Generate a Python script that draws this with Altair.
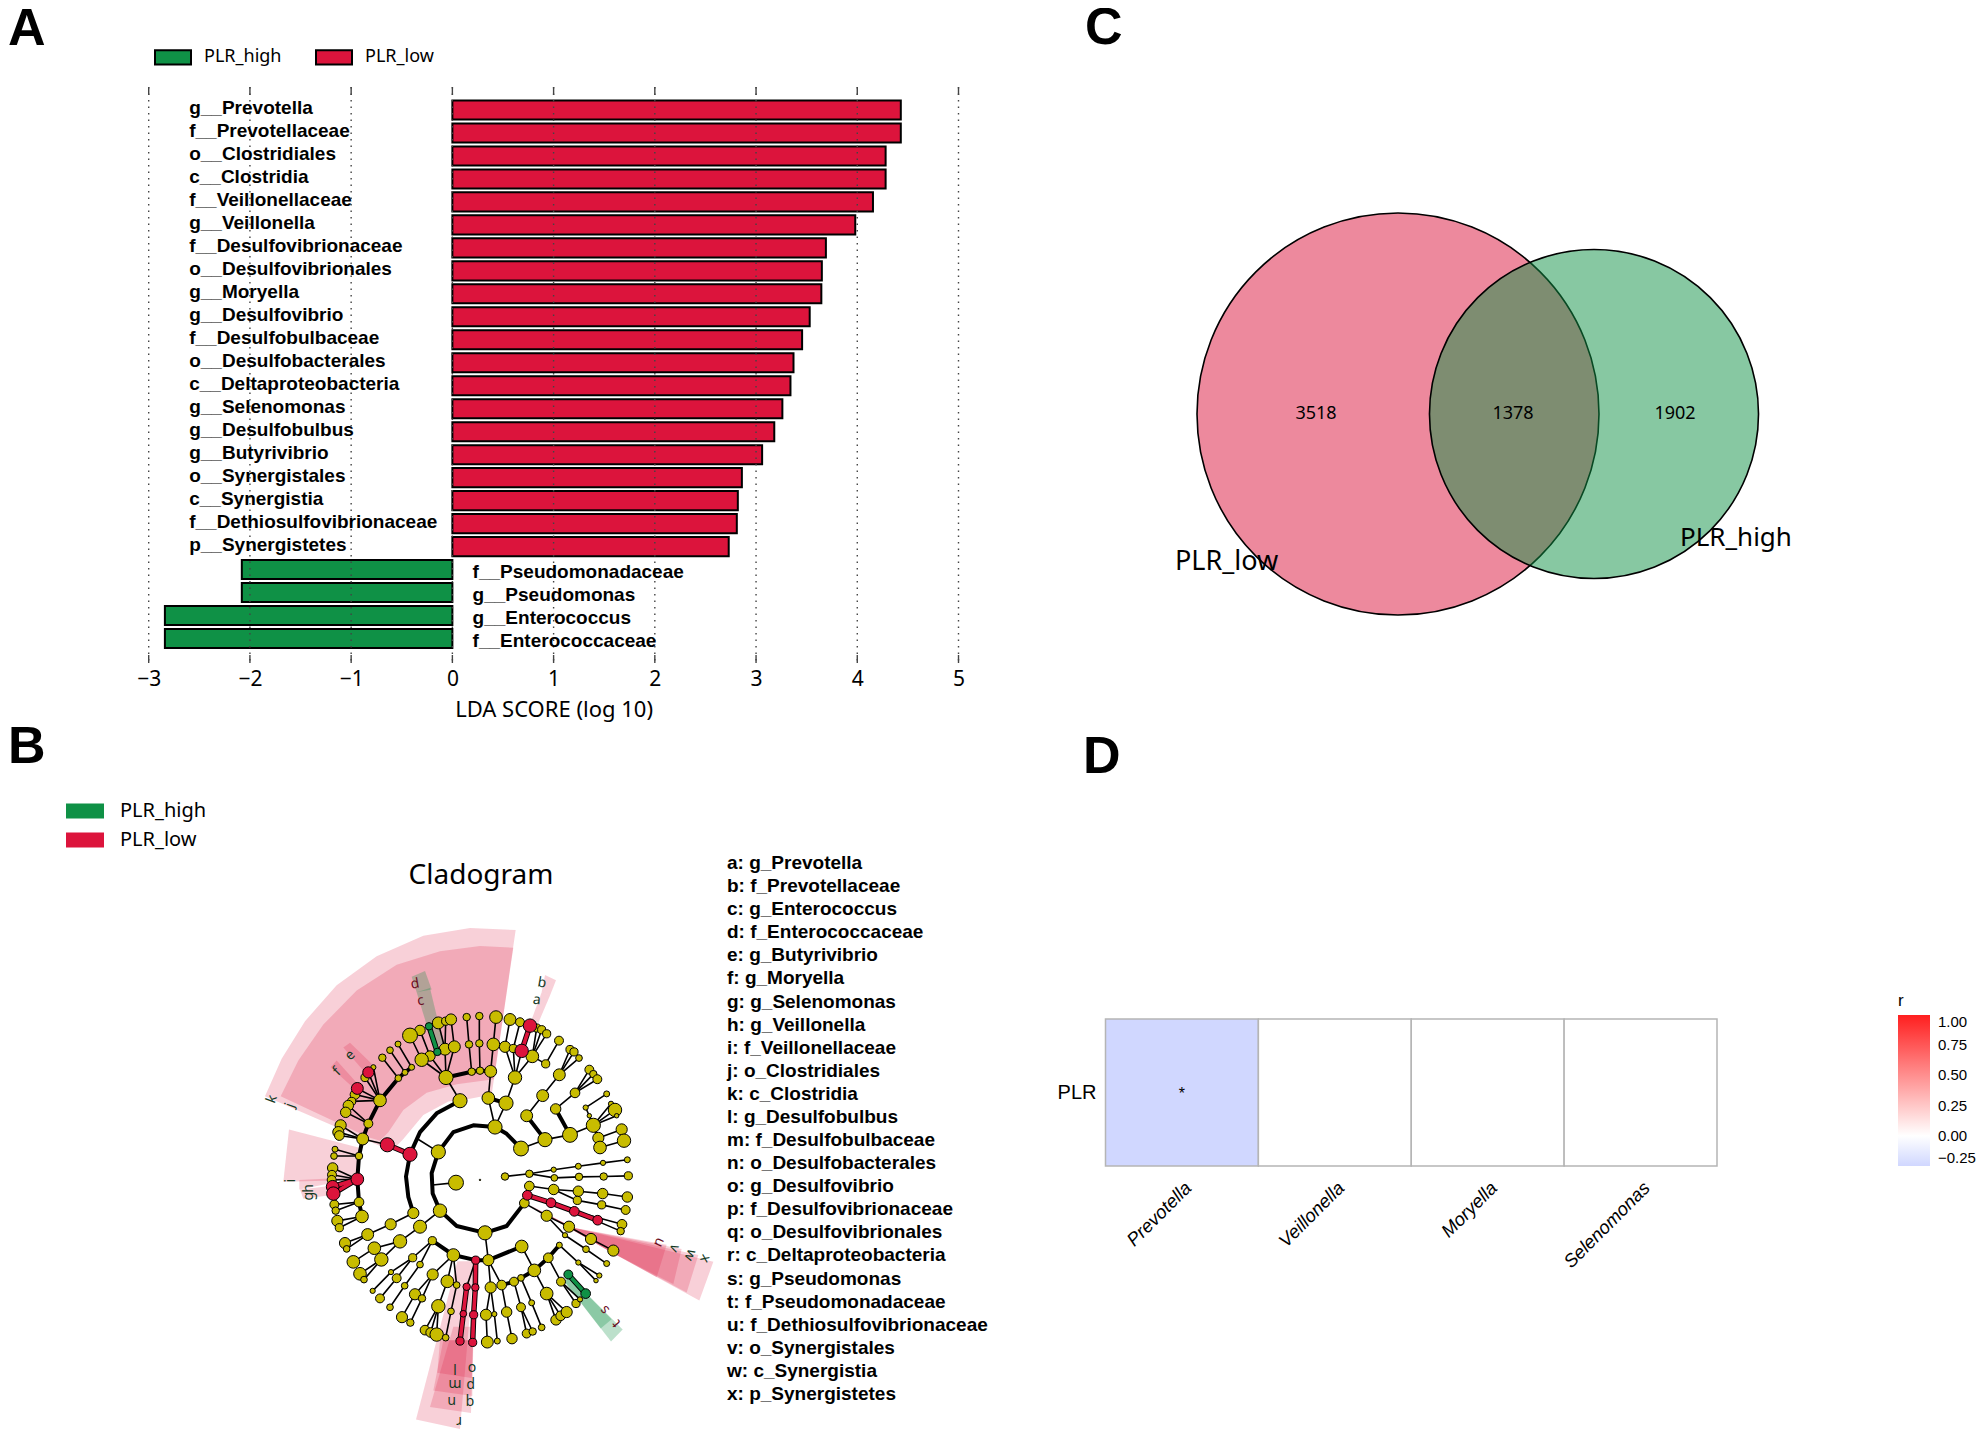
import altair as alt
import pandas as pd

# ---------- palette
RED = "#dc143c"
GREEN = "#0f9146"
YELLOW = "#c8bc00"
SANS = "Noto Sans"
ARIAL = "Liberation Sans"

# ---------- panel A data
lda_taxa_low = ["g__Prevotella", "f__Prevotellaceae", "o__Clostridiales", "c__Clostridia", "f__Veillonellaceae",
                "g__Veillonella", "f__Desulfovibrionaceae", "o__Desulfovibrionales", "g__Moryella", "g__Desulfovibrio",
                "f__Desulfobulbaceae", "o__Desulfobacterales", "c__Deltaproteobacteria", "g__Selenomonas",
                "g__Desulfobulbus", "g__Butyrivibrio", "o__Synergistales", "c__Synergistia",
                "f__Dethiosulfovibrionaceae", "p__Synergistetes"]
lda_values_low = [4.43, 4.43, 4.28, 4.28, 4.155, 3.98, 3.69, 3.65, 3.645, 3.53, 3.455, 3.37, 3.34, 3.26, 3.18, 3.06,
                  2.86, 2.82, 2.81, 2.73]
lda_taxa_high = ["f__Pseudomonadaceae", "g__Pseudomonas", "g__Enterococcus", "f__Enterococcaceae"]
lda_values_high = [-2.08, -2.08, -2.84, -2.84]
lda_ticks = [-3, -2, -1, 0, 1, 2, 3, 4, 5]

# ---------- panel B data (in cladogram units)
clad_labels = ["a: g_Prevotella", "b: f_Prevotellaceae", "c: g_Enterococcus", "d: f_Enterococcaceae",
               "e: g_Butyrivibrio", "f: g_Moryella", "g: g_Selenomonas", "h: g_Veillonella", "i: f_Veillonellaceae",
               "j: o_Clostridiales", "k: c_Clostridia", "l: g_Desulfobulbus", "m: f_Desulfobulbaceae",
               "n: o_Desulfobacterales", "o: g_Desulfovibrio", "p: f_Desulfovibrionaceae", "q: o_Desulfovibrionales",
               "r: c_Deltaproteobacteria", "s: g_Pseudomonas", "t: f_Pseudomonadaceae", "u: f_Dethiosulfovibrionaceae",
               "v: o_Synergistales", "w: c_Synergistia", "x: p_Synergistetes"]

red_sectors = [
    [(75, 575), (125, 465), (195, 355), (290, 250), (410, 165), (550, 105), (690, 82), (827, 88), (755, 570),
     (690, 582), (625, 590), (550, 630), (490, 700), (455, 735)],
    [(122, 575), (175, 470), (250, 365), (350, 265), (470, 190), (600, 150), (720, 135), (820, 140), (762, 525),
     (650, 540), (560, 565), (490, 615), (445, 680), (420, 705), (385, 695)],
    [(310, 432), (330, 418), (395, 480), (375, 505)],
    [(272, 490), (290, 470), (350, 535), (340, 550)],
    [(875, 350), (905, 270), (930, 280), (895, 360)],
    [(905, 270), (915, 220), (948, 235), (930, 280)],
    [(147, 672), (355, 725), (355, 820), (130, 825)],
    [(178, 820), (270, 816), (272, 830), (178, 848)],
    [(180, 848), (270, 838), (270, 865), (190, 875)],
    [(1000, 960), (1420, 1060), (1378, 1173), (1110, 1030), (870, 895)],
    [(1000, 960), (1375, 1040), (1340, 1150), (1110, 1030), (870, 895)],
    [(1000, 960), (1325, 1022), (1300, 1125), (1110, 1030), (870, 895)],
    [(1000, 960), (1280, 1010), (1250, 1105), (1110, 1030), (870, 895)],
    [(652, 1058), (703, 1058), (660, 1550), (528, 1522)],
    [(640, 1250), (700, 1250), (693, 1503), (570, 1485)],
    [(610, 1290), (700, 1290), (697, 1453), (580, 1437)],
    [(600, 1290), (700, 1290), (695, 1400), (592, 1385)],
]
green_sectors = [
    [(515, 225), (555, 208), (575, 262), (530, 270)],
    [(530, 270), (570, 258), (610, 420), (580, 430)],
    [(985, 1100), (1148, 1258), (1113, 1293), (975, 1120)],
    [(985, 1100), (1115, 1228), (1082, 1255), (975, 1120)],
]

thick_branches = [
    [(843, 728), (800, 685), (765, 665), (700, 660), (640, 680), (595, 738), (575, 800), (578, 860), (600, 910),
     (650, 955), (735, 975), (800, 955), (853, 888)],
    [(660, 588), (590, 625), (540, 680), (510, 745), (498, 810), (505, 870), (520, 917)],
    [(368, 700), (385, 655), (420, 587), (475, 522), (495, 505), (515, 490)],
    [(368, 700), (357, 750), (352, 818), (357, 885), (366, 927)],
    [(798, 595), (745, 580)],
    [(618, 520), (695, 503), (720, 500), (752, 502)],
    [(915, 702), (860, 632)],
    [(990, 688), (947, 612)],
    [(577, 998), (640, 1040), (707, 1055), (745, 1055), (845, 1015)],
    [(785, 1128), (822, 1118), (843, 1107), (883, 1085), (925, 1048), (958, 1011)],
]
thin_branches = [
    [(578, 835), (648, 828)], [(595, 738), (533, 700)], [(765, 665), (798, 595), (825, 520)], [(843, 728), (915, 702), (990, 688), (1060, 660)],
    [(860, 632), (908, 573), (958, 512)], [(958, 512), (990, 438)], [(958, 512), (1002, 445)], [(958, 512), (1017, 463)],
    [(947, 612), (1005, 565)], [(1005, 565), (1048, 497)], [(1005, 565), (1060, 510)], [(1005, 565), (1072, 525)],
    [(1060, 660), (1037, 608), (1100, 568)], [(1060, 660), (1048, 632)], [(1060, 660), (1113, 597)], [(1060, 660), (1125, 615)], [(1060, 660), (1130, 632)],
    [(1060, 660), (1075, 697), (1145, 672)], [(1060, 660), (1080, 725), (1152, 705)],
    [(825, 520), (795, 430), (810, 350)], [(825, 520), (820, 435), (840, 358)], [(825, 520), (877, 458), (890, 375)], [(877, 458), (905, 380)], [(877, 458), (920, 392)],
    [(877, 458), (917, 480), (957, 412)],
    [(745, 580), (752, 502), (760, 423), (768, 343)], [(695, 503), (687, 423), (680, 343)], [(720, 500), (718, 420), (718, 340)],
    [(618, 520), (660, 588)], [(618, 520), (570, 457), (540, 382)], [(618, 520), (545, 468), (510, 397)], [(618, 520), (615, 437), (595, 360)], [(615, 437), (617, 355)], [(618, 520), (643, 430), (633, 350)],
    [(442, 717), (368, 700)], [(475, 522), (427, 462)], [(495, 505), (450, 440)], [(515, 490), (474, 422)],
    [(420, 587), (385, 505)], [(420, 587), (352, 552)], [(420, 587), (375, 520)], [(420, 587), (400, 490)], [(420, 587), (345, 570)], [(420, 587), (335, 590)],
    [(385, 655), (325, 602)], [(385, 655), (317, 622)], [(368, 700), (302, 660)], [(368, 700), (295, 680)], [(368, 700), (298, 690)],
    [(352, 818), (278, 785)], [(352, 818), (276, 805)], [(352, 818), (275, 820)], [(357, 750), (285, 730)], [(357, 750), (282, 750)],
    [(357, 885), (283, 892)], [(357, 885), (287, 910)], [(366, 927), (292, 940)], [(366, 927), (298, 960)],
    [(520, 917), (452, 950), (383, 980), (315, 1005)], [(383, 980), (320, 1022)],
    [(600, 910), (540, 957), (480, 1000), (424, 1053), (360, 1095)], [(424, 1053), (372, 1112)], [(480, 1000), (403, 1020), (340, 1060)],
    [(735, 975), (745, 1055)],
    [(577, 998), (518, 1048), (470, 1108), (420, 1167)], [(577, 998), (540, 1068), (494, 1130), (450, 1193)], [(518, 1048), (453, 1090), (398, 1145)],
    [(640, 1040), (622, 1117), (595, 1190)], [(640, 1040), (578, 1097), (525, 1155), (486, 1222)], [(578, 1097), (546, 1167), (511, 1238)],
    [(595, 1190), (555, 1260)], [(595, 1190), (572, 1267)], [(595, 1190), (590, 1273)], [(640, 1040), (650, 1128), (633, 1205), (617, 1282)],
    [(745, 1055), (752, 1135), (738, 1215), (742, 1295)], [(752, 1135), (763, 1213), (772, 1292)], [(745, 1055), (785, 1128), (800, 1207), (816, 1285)],
    [(822, 1118), (843, 1193), (860, 1270)], [(843, 1193), (878, 1264)], [(843, 1107), (875, 1180), (905, 1252)],
    [(845, 1015), (883, 1085), (920, 1153)], [(920, 1153), (948, 1230)], [(920, 1153), (962, 1218)], [(920, 1153), (980, 1207)],
    [(925, 1048), (963, 1118), (1008, 1182)], [(963, 1118), (1020, 1170)], [(958, 1011), (1015, 1062), (1068, 1115)], [(1015, 1062), (1078, 1100)],
    [(853, 888), (920, 925), (987, 957), (1053, 993), (1120, 1027)], [(920, 925), (975, 982), (1038, 1023), (1100, 1065)],
    [(1003, 912), (1146, 950)], [(1003, 912), (1142, 970)],
    [(868, 838), (941, 848), (1015, 853), (1088, 860), (1162, 870)], [(941, 848), (1012, 880), (1085, 893), (1157, 908)],
    [(795, 810), (868, 802), (941, 790), (1015, 780), (1089, 770), (1162, 761)], [(868, 802), (943, 814), (1017, 811), (1091, 810), (1165, 808)],
    [(765, 665), (745, 580)], [(825, 520), (845, 442)], [(707, 1055), (680, 1133)],
]
red_branches = [
    [(442, 717), (510, 745)], [(845, 442), (870, 368)], [(352, 818), (278, 840)], [(352, 818), (280, 860)],
    [(707, 1055), (706, 1135), (701, 1215), (698, 1296)], [(680, 1133), (670, 1212), (660, 1292)],
    [(862, 865), (933, 887), (1003, 912), (1073, 938)],
]
green_branches = [
    [(592, 445), (567, 370)], [(985, 1097), (1037, 1153)],
]

yellow_nodes = [
    (648, 828, 40), (595, 738, 38), (765, 665, 38), (843, 728, 40), (600, 910, 36), (735, 975, 38), (853, 888, 26),
    (868, 838, 26), (795, 810, 20), (660, 588, 38), (520, 917, 30), (540, 957, 35), (798, 595, 38), (745, 580, 34),
    (915, 702, 38), (860, 632, 32), (990, 688, 40), (947, 612, 28), (1060, 660, 38), (908, 573, 32), (958, 512, 32),
    (990, 438, 22), (1002, 445, 22), (1017, 463, 18), (1005, 565, 26), (1048, 497, 24), (1060, 510, 20), (1072, 525, 24),
    (1037, 608, 14), (1048, 632, 12), (1100, 568, 16), (1113, 597, 14), (1125, 615, 36), (1130, 632, 12),
    (1075, 697, 30), (1080, 725, 34), (1145, 672, 30), (1152, 705, 36), (825, 520, 36), (795, 430, 30), (820, 435, 22),
    (877, 458, 34), (810, 350, 32), (840, 358, 24), (890, 375, 22), (905, 380, 22), (920, 392, 22), (917, 480, 22),
    (957, 412, 24), (752, 502, 32), (760, 423, 34), (768, 343, 34), (695, 503, 20), (720, 500, 20), (687, 423, 20),
    (680, 343, 20), (718, 420, 20), (718, 340, 20), (618, 520, 38), (570, 457, 28), (545, 468, 36), (615, 437, 32),
    (643, 430, 32), (540, 382, 28), (510, 397, 40), (595, 360, 32), (617, 355, 22), (633, 350, 30),
    (368, 700, 32), (385, 655, 24), (420, 587, 34), (475, 522, 18), (495, 505, 16), (515, 490, 16), (427, 462, 20),
    (450, 440, 18), (474, 422, 16), (375, 520, 22), (400, 490, 14), (345, 570, 26), (335, 590, 22), (325, 602, 28),
    (317, 622, 28), (302, 660, 30), (295, 680, 30), (298, 690, 26), (357, 750, 20), (357, 885, 26), (366, 927, 34),
    (278, 785, 28), (276, 805, 24), (275, 820, 24), (285, 730, 16), (282, 750, 18), (283, 892, 24), (287, 910, 20),
    (292, 940, 30), (298, 960, 22), (452, 950, 30), (383, 980, 32), (315, 1005, 30), (320, 1022, 18), (480, 1000, 36),
    (424, 1053, 36), (360, 1095, 34), (372, 1112, 18), (403, 1020, 34), (340, 1060, 34), (745, 1055, 30), (577, 998, 22),
    (640, 1040, 34), (845, 1015, 34), (518, 1048, 22), (540, 1068, 18), (470, 1108, 24), (420, 1167, 24), (494, 1130, 18),
    (450, 1193, 18), (453, 1090, 14), (398, 1145, 14), (622, 1117, 34), (578, 1097, 30), (595, 1190, 36), (525, 1155, 30),
    (486, 1222, 30), (546, 1167, 20), (511, 1238, 20), (555, 1260, 26), (572, 1267, 26), (590, 1273, 36), (650, 1128, 18),
    (633, 1205, 18), (617, 1282, 18), (752, 1135, 30), (785, 1128, 26), (738, 1215, 30), (742, 1295, 32), (763, 1213, 14),
    (772, 1292, 16), (800, 1207, 28), (816, 1285, 28), (822, 1118, 24), (843, 1107, 18), (883, 1085, 34), (925, 1048, 26),
    (958, 1011, 16), (843, 1193, 24), (860, 1270, 24), (875, 1180, 16), (905, 1252, 18), (878, 1264, 20), (920, 1153, 34),
    (948, 1230, 28), (962, 1218, 26), (980, 1207, 30), (963, 1118, 24), (1008, 1182, 22), (1020, 1170, 14), (1015, 1062, 14),
    (1068, 1115, 12), (1078, 1100, 14), (920, 925, 30), (987, 957, 30), (1053, 993, 30), (1120, 1027, 30), (975, 982, 14),
    (1038, 1023, 18), (1100, 1065, 16), (1146, 950, 26), (1142, 970, 20), (941, 848, 28), (1015, 853, 28), (1088, 860, 28),
    (1162, 870, 28), (1012, 880, 22), (1085, 893, 22), (1157, 908, 24), (868, 802, 20), (941, 790, 14), (1015, 780, 16),
    (1089, 770, 14), (1162, 761, 16), (943, 814, 18), (1017, 811, 20), (1091, 810, 20), (1165, 808, 22), (720, 820, 4),
]
red_nodes = [
    (510, 745, 38), (442, 717, 38), (845, 442, 36), (870, 368, 36), (385, 505, 30), (352, 552, 32), (352, 818, 34),
    (278, 840, 34), (280, 860, 36), (707, 1055, 22), (680, 1133, 20), (670, 1212, 18), (660, 1292, 22), (706, 1135, 20),
    (701, 1215, 22), (698, 1296, 22), (862, 865, 26), (933, 887, 26), (1003, 912, 26), (1073, 938, 26),
]
green_nodes = [(592, 445, 20), (567, 370, 20), (985, 1097, 24), (1037, 1153, 26)]

sector_letters = list("abcdefghijklmnopqrstuvwx")
sector_letter_x = [890, 906, 542, 525, 331, 291, 206, 206, 153, 150, 96, 645, 645, 635, 696, 692, 690, 657, 1094, 1130, 1258, 1303, 1350, 1395]
sector_letter_y = [293, 243, 296, 246, 455, 503, 868, 845, 822, 602, 583, 1372, 1418, 1468, 1372, 1420, 1472, 1525, 1200, 1240, 1003, 1020, 1040, 1050]
sector_letter_angle = [5, 10, 350, 350, 315, 315, 270, 270, 270, 290, 290, 180, 180, 180, 180, 180, 180, 180, 230, 230, 115, 115, 115, 115]
sector_letter_tone = ["g", "g", "r", "r", "g", "g", "g", "g", "g", "g", "g", "g", "g", "g", "g", "g", "g", "g", "r", "r", "r", "g", "g", "g"]

# ---------- panel C data
venn_sets = ["PLR_low", "PLR_high"]
venn_totals = [4896, 3280]
venn_centres = [1398, 1594]
venn_parts = [3518, 1378, 1902]
venn_part_x = [1316, 1513, 1675]

# ---------- panel D data
heat_taxa = ["Prevotella", "Veillonella", "Moryella", "Selenomonas"]
heat_r = [-0.25, 0, 0, 0]
heat_star = ["*", "", "", ""]
r_breaks = [-0.25, 0, 0.25, 0.5, 0.75, 1]

# ---------- frame
W, H = 1968, 1422
M = 8  # page margin


def rows(paths):
    return pd.DataFrame([{"p": i, "o": j, "x": x, "y": y} for i, path in enumerate(paths) for j, (x, y) in enumerate(path)])


def note(text, x, y, size, font=SANS, weight="normal", color="black", align="left"):
    return alt.Chart(alt.Data(values=[{"t": text}])).mark_text(
        font=font, fontSize=size, fontWeight=weight, color=color, align=align, baseline="middle"
    ).encode(text="t:N", x=alt.value(x - M), y=alt.value(y - M))


# ---------- panel A
lda_x = alt.Scale(domain=[-3, 5], range=[140.7, 950.5], nice=False, zero=False)
lda_y = alt.Scale(domain=lda_taxa_low + lda_taxa_high, range=[90.5, 642], paddingInner=0.17, paddingOuter=0.085)
lda_df = pd.DataFrame({
    "taxon": lda_taxa_low + lda_taxa_high,
    "score": lda_values_low + lda_values_high,
    "group": ["PLR_low"] * len(lda_taxa_low) + ["PLR_high"] * len(lda_taxa_high),
})
legend_path = "M-1,-0.4H1V0.4H-1Z"
bars = alt.Chart(lda_df).mark_bar(stroke="black", strokeWidth=2).encode(
    x=alt.X("score:Q", scale=lda_x, stack=None, axis=alt.Axis(
        values=lda_ticks, format="d", domain=False, ticks=False, grid=False, orient="bottom", offset=-(H - 655),
        labelFont=SANS, labelFontSize=21, labelColor="black", labelPadding=5, labelFlush=False,
        title="LDA SCORE (log 10)", titleFont=SANS, titleFontSize=22, titleFontWeight="normal", titleColor="black", titlePadding=10)),
    y=alt.Y("taxon:N", scale=lda_y, axis=None, sort=None),
    fill=alt.Fill("group:N", scale=alt.Scale(domain=["PLR_high", "PLR_low"], range=[GREEN, RED]), legend=alt.Legend(
        orient="none", legendX=146, legendY=30, direction="horizontal", columns=2, title=None, symbolType=legend_path,
        symbolSize=1296, symbolStrokeColor="black", symbolStrokeWidth=2, symbolOpacity=1, labelFont=SANS, labelFontSize=18,
        labelColor="black", columnPadding=30, labelOffset=12)),
)
tick_df = pd.DataFrame({"t": lda_ticks})
grid = alt.Chart(tick_df).mark_rule(color="#444", strokeWidth=1.4, strokeDash=[1.5, 5]).encode(
    x=alt.X("t:Q", scale=lda_x, axis=None), y=alt.value(79), y2=alt.value(655))
top_ticks = alt.Chart(tick_df).mark_rule(color="#444", strokeWidth=1.4).encode(
    x=alt.X("t:Q", scale=lda_x, axis=None), y=alt.value(79), y2=alt.value(87))
bottom_ticks = alt.Chart(tick_df).mark_rule(color="#444", strokeWidth=1.4).encode(
    x=alt.X("t:Q", scale=lda_x, axis=None), y=alt.value(647), y2=alt.value(655))
low_text = alt.Chart(lda_df[lda_df.group == "PLR_low"]).mark_text(
    font=ARIAL, fontWeight="bold", fontSize=19, align="left", baseline="middle", dy=-2, color="black"
).encode(x=alt.datum(-2.6, scale=lda_x, axis=None), y=alt.Y("taxon:N", scale=lda_y, axis=None, sort=None), text="taxon:N")
high_text = alt.Chart(lda_df[lda_df.group == "PLR_high"]).mark_text(
    font=ARIAL, fontWeight="bold", fontSize=19, align="left", baseline="middle", dy=2, color="black"
).encode(x=alt.datum(0.2, scale=lda_x, axis=None), y=alt.Y("taxon:N", scale=lda_y, axis=None, sort=None), text="taxon:N")

# ---------- panel B
cx = alt.Scale(domain=[0, 1500], range=[232, 732], nice=False, zero=False)
cy = alt.Scale(domain=[0, 1576], range=[892, 1430], nice=False, zero=False)


def polygons(paths, color, opacity):
    return alt.Chart(rows(paths)).mark_line(
        interpolate="linear-closed", fill=color, fillOpacity=opacity, strokeWidth=0, stroke="transparent"
    ).encode(x=alt.X("x:Q", scale=cx, axis=None), y=alt.Y("y:Q", scale=cy, axis=None), detail="p:N", order="o:Q")


def branches(paths, color, width):
    return alt.Chart(rows(paths)).mark_line(color=color, strokeWidth=width, strokeCap="round", strokeJoin="round").encode(
        x=alt.X("x:Q", scale=cx, axis=None), y=alt.Y("y:Q", scale=cy, axis=None), detail="p:N", order="o:Q")


node_df = pd.DataFrame(
    [{"x": x, "y": y, "s": 1.25 * (d / 3) ** 2, "g": "other"} for x, y, d in yellow_nodes]
    + [{"x": x, "y": y, "s": 1.25 * (d / 3) ** 2, "g": "PLR_low"} for x, y, d in red_nodes]
    + [{"x": x, "y": y, "s": 1.25 * (d / 3) ** 2, "g": "PLR_high"} for x, y, d in green_nodes]
)
nodes = alt.Chart(node_df).mark_point(shape="circle", filled=True, stroke="black", strokeWidth=1, opacity=1).encode(
    x=alt.X("x:Q", scale=cx, axis=None), y=alt.Y("y:Q", scale=cy, axis=None),
    size=alt.Size("s:Q", scale=None),
    fill=alt.Fill("g:N", scale=alt.Scale(domain=["PLR_high", "PLR_low", "other"], range=[GREEN, RED, YELLOW]), legend=alt.Legend(
        orient="none", legendX=58, legendY=784, values=["PLR_high", "PLR_low"], title=None, symbolType=legend_path,
        symbolSize=1444, symbolStrokeWidth=0, symbolOpacity=1, labelFont=SANS, labelFontSize=20, labelColor="black", rowPadding=-5, labelOffset=16)),
)
letter_df = pd.DataFrame({"t": sector_letters, "x": sector_letter_x, "y": sector_letter_y, "a": sector_letter_angle, "tone": sector_letter_tone})
letters = alt.Chart(letter_df).mark_text(font=SANS, fontSize=14, baseline="middle", align="center").encode(
    x=alt.X("x:Q", scale=cx, axis=None), y=alt.Y("y:Q", scale=cy, axis=None), text="t:N",
    angle=alt.Angle("a:Q", scale=None),
    color=alt.Color("tone:N", scale=alt.Scale(domain=["g", "r"], range=["#12391f", "#6b0d1e"]), legend=None),
)
list_y = alt.Scale(domain=clad_labels, range=[843.5, 1397.5], paddingInner=0, paddingOuter=0)
clad_list = alt.Chart(pd.DataFrame({"t": clad_labels})).mark_text(
    font=ARIAL, fontSize=19, fontWeight="bold", align="left", baseline="middle", color="black"
).encode(x=alt.value(719), y=alt.Y("t:N", scale=list_y, axis=None, sort=None), text="t:N")

# ---------- panel C
vx = alt.Scale(domain=[1100, 1900], range=[1092, 1892], nice=False, zero=False)
venn_df = pd.DataFrame({"set": venn_sets, "total": venn_totals, "x": venn_centres})
venn_circles = alt.Chart(venn_df).mark_point(shape="circle", filled=True, stroke="black", strokeWidth=1.6, fillOpacity=0.5, strokeOpacity=1, opacity=1).encode(
    x=alt.X("x:Q", scale=vx, axis=None), y=alt.value(406),
    size=alt.Size("total:Q", scale=alt.Scale(domain=[0, 4896], range=[0, 161604]), legend=None),
    fill=alt.Fill("set:N", scale=alt.Scale(domain=venn_sets, range=[RED, GREEN]), legend=None),
)
venn_text = alt.Chart(pd.DataFrame({"n": venn_parts, "x": venn_part_x})).mark_text(font=SANS, fontSize=18, color="black", baseline="middle").encode(
    x=alt.X("x:Q", scale=vx, axis=None), y=alt.value(406), text="n:Q")

# ---------- panel D
hx = alt.Scale(domain=heat_taxa, range=[1097.5, 1709], paddingInner=0, paddingOuter=0)
hy = alt.Scale(domain=["PLR"], range=[1011, 1158], paddingInner=0, paddingOuter=0)
heat_df = pd.DataFrame({"taxon": heat_taxa, "row": ["PLR"] * 4, "r": heat_r, "star": heat_star})
heat = alt.Chart(heat_df).mark_rect(stroke="#b5b5b5", strokeWidth=1.5).encode(
    x=alt.X("taxon:N", scale=hx, sort=None, axis=alt.Axis(
        orient="bottom", offset=-(H - 1158), domain=False, ticks=False, title=None, labelAngle=315, labelFont=ARIAL,
        labelFontStyle="italic", labelFontSize=18.5, labelColor="black", labelPadding=12, grid=False, labelLimit=300)),
    y=alt.Y("row:N", scale=hy, axis=alt.Axis(
        orient="left", offset=-1097, domain=False, ticks=False, title=None, labelFont=ARIAL, labelFontSize=20,
        labelColor="black", labelPadding=9, grid=False)),
    color=alt.Color("r:Q", scale=alt.Scale(domain=[-0.25, 0, 1], range=["#d0d7ff", "#ffffff", "#ff1f1f"], interpolate="rgb"), legend=alt.Legend(
        orient="none", legendX=1890, legendY=985, title="r", titleFont=ARIAL, titleFontSize=17, titleFontWeight="normal",
        titleColor="black", gradientLength=151, gradientThickness=32, values=r_breaks, format=".2f",
        labelFont=ARIAL, labelFontSize=15, labelColor="black", labelOffset=8, gradientStrokeWidth=0)),
)
star = alt.Chart(heat_df).mark_text(font=ARIAL, fontSize=16, color="black", baseline="middle", dy=1).encode(
    x=alt.X("taxon:N", scale=hx, sort=None, axis=None), y=alt.Y("row:N", scale=hy, axis=None), text="star:N")

# small white ticks over the colour bar
bar_y = alt.Scale(domain=[-0.25, 1], range=[1157, 1012.7], nice=False, zero=False)
bar_df = pd.DataFrame({"r": r_breaks})
bar_ticks_left = alt.Chart(bar_df).mark_rule(color="white", strokeWidth=1, opacity=0.8).encode(
    y=alt.Y("r:Q", scale=bar_y, axis=None), x=alt.value(1890), x2=alt.value(1897))
bar_ticks_right = alt.Chart(bar_df).mark_rule(color="white", strokeWidth=1, opacity=0.8).encode(
    y=alt.Y("r:Q", scale=bar_y, axis=None), x=alt.value(1916), x2=alt.value(1922))

chart = alt.layer(
    bars, grid, top_ticks, bottom_ticks, low_text, high_text,
    polygons(red_sectors, RED, 0.2), polygons(green_sectors, GREEN, 0.28),
    branches(thin_branches, "black", 1.6), branches(thick_branches, "black", 4),
    branches(red_branches, "black", 5.5), branches(red_branches, RED, 3.6),
    branches(green_branches, "black", 5.5), branches(green_branches, GREEN, 3.6),
    nodes, letters, clad_list,
    venn_circles, venn_text,
    heat, star, bar_ticks_left, bar_ticks_right,
    note("A", 8, 29, 52, ARIAL, "bold"), note("B", 8, 747, 52, ARIAL, "bold"),
    note("C", 1085, 28, 52, ARIAL, "bold"), note("D", 1083, 757, 52, ARIAL, "bold"),
    note("Cladogram", 481, 876, 28, SANS, align="center"),
    note("PLR_low", 1175, 562, 27), note("PLR_high", 1680, 538, 26),
).resolve_scale(x="independent", y="independent", fill="independent", size="independent", color="independent").properties(
    width=W, height=H, padding=0, autosize=alt.AutoSizeParams(type="none")
).configure_view(stroke=None)

chart.save("out.html", embed_options={"renderer": "svg", "actions": False})
